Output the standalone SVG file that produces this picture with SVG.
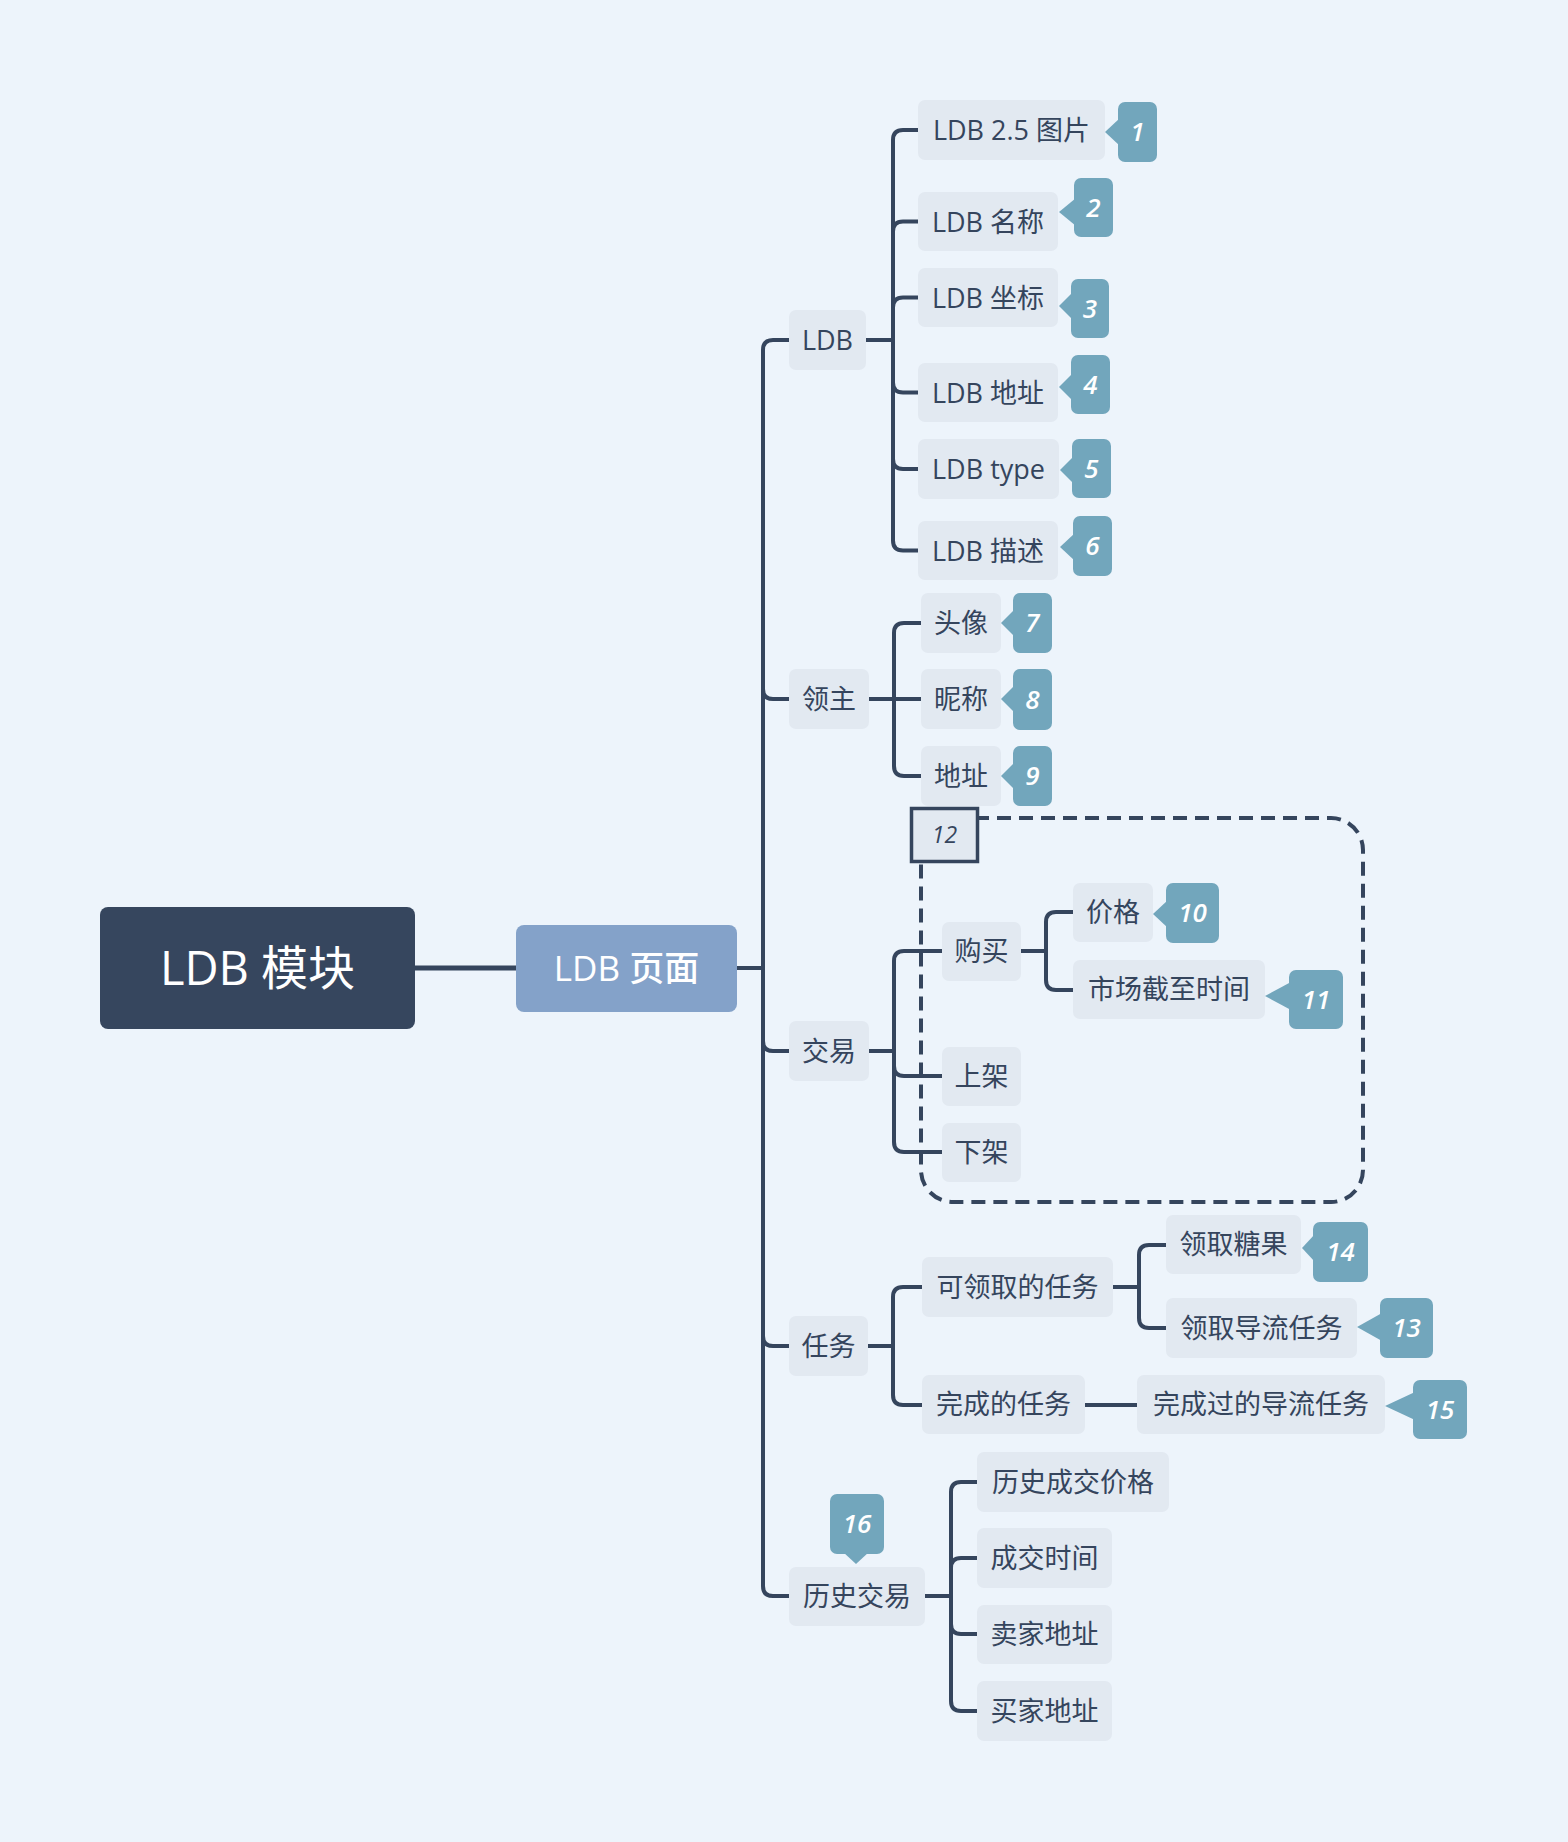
<svg xmlns="http://www.w3.org/2000/svg" width="1568" height="1842" viewBox="0 0 1568 1842">
<style>
.bg{fill:#edf4fb}
.n rect{fill:#e2e9f1}
.n text{font-family:"Open Sans","Noto Sans CJK SC",sans-serif;font-size:27px;fill:#35455d;text-anchor:middle}
.t rect,.t polygon{fill:#72a6bc}
.t text{font-family:"Open Sans","Noto Sans CJK SC",sans-serif;font-size:26px;font-weight:600;font-style:italic;fill:#ffffff;text-anchor:middle}
.c path{fill:none;stroke:#35455d;stroke-width:4;stroke-linecap:butt}
</style>
<rect class="bg" x="0" y="0" width="1568" height="1842"/>

<g id="boundary">
<rect x="921" y="818" width="442" height="384" rx="32" fill="none" stroke="#35455d" stroke-width="4" stroke-dasharray="14 8"/>
</g>

<g id="connectors" class="c">
<path d="M415,968 H516" style="stroke-width:5"/>
<path d="M737,968 H763"/>
<path d="M789,340 H773 Q763,340 763,350 V1586 Q763,1596 773,1596 H789"/>
<path d="M763,689 Q763,699 773,699 H789"/>
<path d="M763,1041 Q763,1051 773,1051 H789"/>
<path d="M763,1336 Q763,1346 773,1346 H789"/>
<path d="M866,340 H893"/>
<path d="M918,130 H903 Q893,130 893,140 V540.5 Q893,550.5 903,550.5 H918"/>
<path d="M893,231.5 Q893,221.5 903,221.5 H918"/>
<path d="M893,307.5 Q893,297.5 903,297.5 H918"/>
<path d="M893,382.5 Q893,392.5 903,392.5 H918"/>
<path d="M893,459 Q893,469 903,469 H918"/>
<path d="M869,699 H921"/>
<path d="M921,623 H904 Q894,623 894,633 V766 Q894,776 904,776 H921"/>
<path d="M869,1051 H894"/>
<path d="M942,951 H904 Q894,951 894,961 V1142 Q894,1152 904,1152 H942"/>
<path d="M894,1066 Q894,1076 904,1076 H942"/>
<path d="M1021,951 H1046"/>
<path d="M1073,912 H1056 Q1046,912 1046,922 V980 Q1046,990 1056,990 H1073"/>
<path d="M868,1346 H893"/>
<path d="M922,1287 H903 Q893,1287 893,1297 V1395 Q893,1405 903,1405 H922"/>
<path d="M1113,1287 H1139"/>
<path d="M1166,1245 H1149 Q1139,1245 1139,1255 V1318 Q1139,1328 1149,1328 H1166"/>
<path d="M1085,1405 H1137"/>
<path d="M925,1596 H951"/>
<path d="M977,1482 H961 Q951,1482 951,1492 V1701 Q951,1711 961,1711 H977"/>
<path d="M951,1568 Q951,1558 961,1558 H977"/>
<path d="M951,1624 Q951,1634 961,1634 H977"/>
</g>

<g id="root">
<rect x="100" y="907" width="315" height="122" rx="8" fill="#36465e"/>
<text x="257.5" y="985" font-family="'Open Sans','Noto Sans CJK SC',sans-serif" font-size="47" fill="#ffffff" text-anchor="middle">LDB 模块</text>
</g>
<g id="page">
<rect x="516" y="925" width="221" height="87" rx="8" fill="#84a2c9"/>
<text x="626.5" y="981" font-family="'Open Sans','Noto Sans CJK SC',sans-serif" font-size="35" font-weight="500" fill="#ffffff" text-anchor="middle">LDB 页面</text>
</g>

<g id="n-ldb" class="n"><rect x="789" y="310" width="77" height="60" rx="7"/><text x="827.5" y="350">LDB</text></g>
<g id="n-ldb-img" class="n"><rect x="918" y="100" width="187" height="60" rx="7"/><text x="1011.5" y="140">LDB 2.5 图片</text></g>
<g id="n-ldb-name" class="n"><rect x="918" y="192" width="140" height="59" rx="7"/><text x="988" y="231.5">LDB 名称</text></g>
<g id="n-ldb-coord" class="n"><rect x="918" y="268" width="140" height="59" rx="7"/><text x="988" y="307.5">LDB 坐标</text></g>
<g id="n-ldb-addr" class="n"><rect x="918" y="363" width="140" height="59" rx="7"/><text x="988" y="402.5">LDB 地址</text></g>
<g id="n-ldb-type" class="n"><rect x="918" y="439" width="141" height="60" rx="7"/><text x="988.5" y="479">LDB type</text></g>
<g id="n-ldb-desc" class="n"><rect x="918" y="521" width="140" height="59" rx="7"/><text x="988" y="560.5">LDB 描述</text></g>

<g id="n-owner" class="n"><rect x="789" y="669" width="80" height="60" rx="7"/><text x="829" y="709">领主</text></g>
<g id="n-avatar" class="n"><rect x="921" y="593" width="80" height="60" rx="7"/><text x="961" y="633">头像</text></g>
<g id="n-nick" class="n"><rect x="921" y="669" width="80" height="60" rx="7"/><text x="961" y="709">昵称</text></g>
<g id="n-owner-addr" class="n"><rect x="921" y="746" width="80" height="60" rx="7"/><text x="961" y="786">地址</text></g>

<g id="n-trade" class="n"><rect x="789" y="1021" width="80" height="60" rx="7"/><text x="829" y="1061">交易</text></g>
<g id="n-buy" class="n"><rect x="942" y="922" width="79" height="59" rx="7"/><text x="981.5" y="961">购买</text></g>
<g id="n-list" class="n"><rect x="942" y="1047" width="79" height="59" rx="7"/><text x="981.5" y="1086">上架</text></g>
<g id="n-delist" class="n"><rect x="942" y="1123" width="79" height="59" rx="7"/><text x="981.5" y="1162">下架</text></g>
<g id="n-price" class="n"><rect x="1073" y="883" width="80" height="59" rx="7"/><text x="1113" y="922">价格</text></g>
<g id="n-deadline" class="n"><rect x="1073" y="960" width="192" height="59" rx="7"/><text x="1169" y="999">市场截至时间</text></g>

<g id="n-task" class="n"><rect x="789" y="1316" width="79" height="60" rx="7"/><text x="828.5" y="1356">任务</text></g>
<g id="n-avail" class="n"><rect x="922" y="1257" width="191" height="60" rx="7"/><text x="1017.5" y="1297">可领取的任务</text></g>
<g id="n-candy" class="n"><rect x="1166" y="1215" width="135" height="59" rx="7"/><text x="1233.5" y="1254">领取糖果</text></g>
<g id="n-guide" class="n"><rect x="1166" y="1298" width="191" height="60" rx="7"/><text x="1261.5" y="1338">领取导流任务</text></g>
<g id="n-done" class="n"><rect x="922" y="1375" width="163" height="59" rx="7"/><text x="1003.5" y="1414">完成的任务</text></g>
<g id="n-done-guide" class="n"><rect x="1137" y="1375" width="248" height="59" rx="7"/><text x="1261" y="1414">完成过的导流任务</text></g>

<g id="n-history" class="n"><rect x="789" y="1567" width="136" height="59" rx="7"/><text x="857" y="1606">历史交易</text></g>
<g id="n-h-price" class="n"><rect x="977" y="1452" width="192" height="60" rx="7"/><text x="1073" y="1492">历史成交价格</text></g>
<g id="n-h-time" class="n"><rect x="977" y="1528" width="135" height="60" rx="7"/><text x="1044.5" y="1568">成交时间</text></g>
<g id="n-h-seller" class="n"><rect x="977" y="1605" width="135" height="59" rx="7"/><text x="1044.5" y="1644">卖家地址</text></g>
<g id="n-h-buyer" class="n"><rect x="977" y="1681" width="135" height="60" rx="7"/><text x="1044.5" y="1721">买家地址</text></g>

<g id="label-12">
<rect x="911.5" y="808.5" width="66" height="53" fill="#e2e9f1" stroke="#35455d" stroke-width="3.5"/>
<text x="944.5" y="843" font-family="'Open Sans',sans-serif" font-size="23" font-style="italic" fill="#35455d" text-anchor="middle">12</text>
</g>

<g id="tag-1" class="t"><polygon points="1105,132 1120,118 1120,146"/><rect x="1118" y="102" width="39" height="60" rx="7"/><text x="1137.5" y="141">1</text></g>
<g id="tag-2" class="t"><polygon points="1059,212 1076,198 1076,226"/><rect x="1074" y="178" width="39" height="59" rx="7"/><text x="1093.5" y="216.5">2</text></g>
<g id="tag-3" class="t"><polygon points="1059,306 1073,292 1073,320"/><rect x="1071" y="279" width="38" height="59" rx="7"/><text x="1090" y="317.5">3</text></g>
<g id="tag-4" class="t"><polygon points="1059,387 1073,373 1073,401"/><rect x="1071" y="355" width="39" height="59" rx="7"/><text x="1090.5" y="393.5">4</text></g>
<g id="tag-5" class="t"><polygon points="1060,470 1074,456 1074,484"/><rect x="1072" y="439" width="39" height="59" rx="7"/><text x="1091.5" y="477.5">5</text></g>
<g id="tag-6" class="t"><polygon points="1060,547 1075,533 1075,561"/><rect x="1073" y="516" width="39" height="60" rx="7"/><text x="1092.5" y="555">6</text></g>
<g id="tag-7" class="t"><polygon points="1001,623 1015,609 1015,637"/><rect x="1013" y="593" width="39" height="60" rx="7"/><text x="1032.5" y="632">7</text></g>
<g id="tag-8" class="t"><polygon points="1001,699 1015,685 1015,713"/><rect x="1013" y="669" width="39" height="61" rx="7"/><text x="1032.5" y="708.5">8</text></g>
<g id="tag-9" class="t"><polygon points="1001,776 1015,762 1015,790"/><rect x="1013" y="746" width="39" height="60" rx="7"/><text x="1032.5" y="785">9</text></g>
<g id="tag-10" class="t"><polygon points="1153,914 1168,900 1168,928"/><rect x="1166" y="883" width="53" height="60" rx="7"/><text x="1192.5" y="922">10</text></g>
<g id="tag-11" class="t"><polygon points="1265,996 1291,982 1291,1010"/><rect x="1289" y="970" width="54" height="59" rx="7"/><text x="1316" y="1008.5">11</text></g>
<g id="tag-14" class="t"><polygon points="1302,1248 1315,1234 1315,1262"/><rect x="1313" y="1222" width="55" height="60" rx="7"/><text x="1340.5" y="1261">14</text></g>
<g id="tag-13" class="t"><polygon points="1357,1327 1382,1313 1382,1341"/><rect x="1380" y="1298" width="53" height="60" rx="7"/><text x="1406.5" y="1337">13</text></g>
<g id="tag-15" class="t"><polygon points="1385,1406 1415,1392 1415,1420"/><rect x="1413" y="1380" width="54" height="59" rx="7"/><text x="1440" y="1418.5">15</text></g>
<g id="tag-16" class="t"><polygon points="856,1564 843,1552 869,1552"/><rect x="830" y="1494" width="54" height="60" rx="7"/><text x="857" y="1533">16</text></g>
</svg>
